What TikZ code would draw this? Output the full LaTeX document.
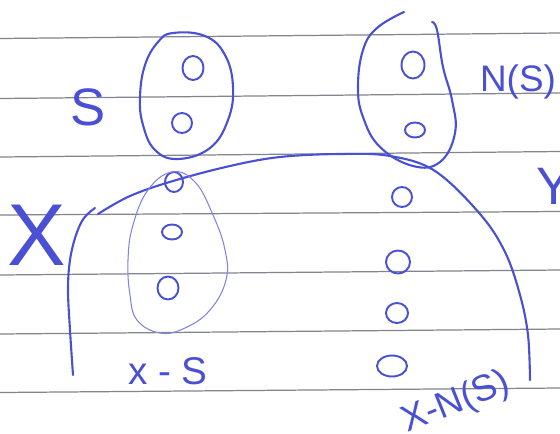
\documentclass[tikz,border=0pt]{standalone}
\usepackage{fontspec}
\setmainfont{Liberation Sans}
\usepackage{tikz}
\usetikzlibrary{shapes.geometric}
\definecolor{penblue}{HTML}{4A50D4}
\definecolor{ruleline}{HTML}{80858F}

\begin{document}
\begin{tikzpicture}[x=0.02cm,y=-0.02cm,line cap=round,line join=round,
  text=penblue,
  ink/.style={draw=penblue,line width=1.2pt},
  faint/.style={draw=penblue!70,line width=0.6pt},
  rule/.style={draw=ruleline,line width=0.7pt},
  pt/.style 2 args={ellipse,draw=penblue,line width=1.1pt,inner sep=0pt,
    minimum width=#1*0.02cm,minimum height=#2*0.02cm},
  lab/.style={inner sep=0pt}]
\path[use as bounding box] (0,0) rectangle (560,433);
\fill[white] (0,0) rectangle (560,433);

% ruled paper
\foreach \yl/\yr in {38.5/33,98.5/93,157/151.5,215/211.5,275/270,334/329,392.5/388}
  \draw[rule] (0,\yl) -- (560,\yr);

% S and its ring
\draw[ink] plot[smooth cycle,tension=0.7] coordinates {(173,33) (205,36) (225,55) (233,87)
  (228,120) (210,148) (178,159) (155,150) (143,125) (140,97) (145,65) (158,42)};
\node[pt={21}{24}] (s1) at (193,68) {};
\node[pt={20}{20}] (s2) at (182,123) {};
\node[lab,font=\fontsize{30}{30}\selectfont] (Slab) at (88,107) {S};

% N(S) loop, open at the top
\draw[ink] plot[smooth,tension=0.7] coordinates {(404,12) (377,28) (363,50) (358,87)
  (363,117) (380,147) (413,166) (440,162) (455,133) (452,100) (443,67) (437,30) (432,22)};
\node[pt={23}{27}] (n1) at (413,65) {};
\node[pt={20}{15}] (n2) at (415,130) {};
\node[lab,font=\fontsize{21}{21}\selectfont] (Nlab) at (518,82) {N(S)};
\node[lab,font=\fontsize{30}{30}\selectfont] (Ylab) at (554,186) {Y};

% X: dome and left side
\draw[ink] plot[smooth,tension=0.6] coordinates {(98,214) (130,196) (173,181) (230,166)
  (280,157) (340,154) (390,156) (435,171) (480,214) (505,252) (520,295) (528,335) (530,380)};
\draw[ink] plot[smooth,tension=0.6] coordinates {(95,208) (84,218) (76,235) (70,260)
  (68,290) (70,330) (73,375)};
\node[lab,font=\fontsize{50}{50}\selectfont] (Xlab) at (37,235) {X};
\node[pt={18}{20}] (x0) at (174,182) {};

% X-S ring, drawn lightly
\draw[faint] plot[smooth cycle,tension=0.7] coordinates {(172,172) (195,182) (213,215)
  (225,250) (226,280) (210,310) (185,328) (160,333) (137,320) (130,295) (128,260)
  (133,225) (148,190)};
\node[pt={20}{15}] (xs1) at (172,232) {};
\node[pt={21}{23}] (xs2) at (168,288) {};
\node[lab,font=\fontsize{22}{22}\selectfont] (XSlab) at (168,371) {x - S};

% X-N(S) column
\node[pt={20}{20}] (r1) at (402,197) {};
\node[pt={24}{23}] (r2) at (398,262) {};
\node[pt={22}{20}] (r3) at (397,313) {};
\node[pt={30}{21}] (r4) at (392,366) {};
\node[lab,font=\fontsize{21}{21}\selectfont,rotate=22] (XNlab) at (456,403) {X-N(S)};
\end{tikzpicture}
\end{document}
